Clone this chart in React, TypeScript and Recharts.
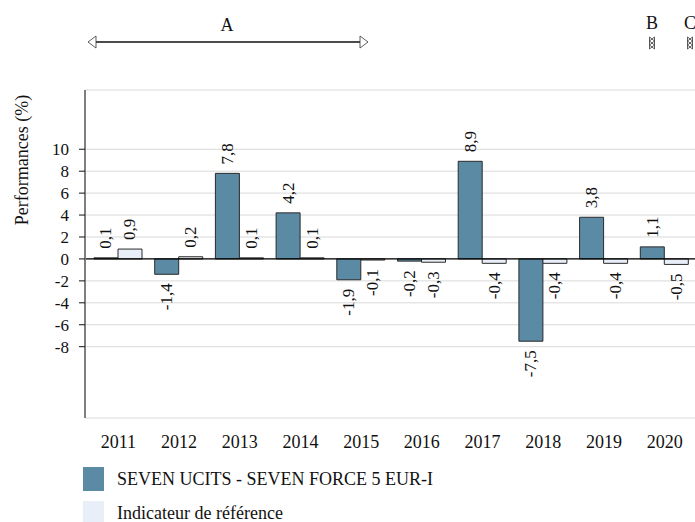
import React from 'react';
import { BarChart, Bar, XAxis, YAxis, CartesianGrid, ReferenceLine, LabelList } from 'recharts';

const years = ['2011', '2012', '2013', '2014', '2015', '2016', '2017', '2018', '2019', '2020'];
const fundValues = [0.1, -1.4, 7.8, 4.2, -1.9, -0.2, 8.9, -7.5, 3.8, 1.1];
const benchValues = [0.9, 0.2, 0.1, 0.1, -0.1, -0.3, -0.4, -0.4, -0.4, -0.5];
const yTicks = [-8, -6, -4, -2, 0, 2, 4, 6, 8, 10];
const seriesNames = ['SEVEN UCITS - SEVEN FORCE 5 EUR-I', 'Indicateur de référence'];
const seriesColors = ['#5b8aa4', '#e9eff8'];

const data = years.map((y, i) => ({ year: y, fund: fundValues[i], bench: benchValues[i] }));

const FONT = '"Liberation Serif", "Times New Roman", serif';

const fmt = (v: number) => v.toFixed(1).replace('.', ',');

const ValueLabel = (props: any) => {
  const { x, y, width, height, value } = props;
  const top = Math.min(y, y + height);
  const bottom = Math.max(y, y + height);
  const cx = x + width / 2;
  const pos = value >= 0;
  const ay = pos ? top - 9 : bottom + 9;
  return (
    <text
      x={cx}
      y={ay}
      transform={`rotate(-90 ${cx} ${ay})`}
      textAnchor={pos ? 'start' : 'end'}
      dominantBaseline="central"
      fontFamily={FONT}
      fontSize={17}
      fill="#111"
    >
      {fmt(value)}
    </text>
  );
};

const Marker = ({ x }: { x: number }) => (
  <g stroke="#333" strokeWidth={0.8} fill="none">
    <path d={`M${x - 2.5},37 L${x + 2.5},41 L${x - 2.5},45 L${x + 2.5},49`} />
    <path d={`M${x + 2.5},37 L${x - 2.5},41 L${x + 2.5},45 L${x - 2.5},49`} />
    <path d={`M${x - 2.5},37 L${x - 2.5},49 M${x + 2.5},37 L${x + 2.5},49`} />
  </g>
);

export default function App() {
  return (
    <div style={{ position: 'absolute', left: 0, top: 0, width: 695, height: 522, background: '#fff', overflow: 'hidden' }}>
      <BarChart
        width={695}
        height={522}
        data={data}
        margin={{ top: 90, right: 0, left: 25, bottom: 74 }}
        barGap={0}
        barSize={24}
      >
        <CartesianGrid vertical={false} stroke="#d9d9d9" />
        <XAxis
          dataKey="year"
          axisLine={false}
          tickLine={false}
          height={30}
          tickMargin={11}
          padding={{ left: 3, right: 0 }}
          tick={{ fontFamily: FONT, fontSize: 18, fill: '#111' }}
          interval={0}
        />
        <YAxis
          width={60}
          domain={[-14.5, 15.4]}
          ticks={yTicks}
          interval={0}
          allowDataOverflow
          axisLine={{ stroke: '#7f7f7f', strokeWidth: 2 }}
          tickLine={{ stroke: '#111' }}
          tickSize={6}
          tickMargin={10}
          tick={{ fontFamily: FONT, fontSize: 17, fill: '#111' }}
          label={{
            value: 'Performances (%)',
            angle: -90,
            position: 'insideLeft',
            offset: 0,
            dx: -3,
            dy: -94,
            style: { fontFamily: FONT, fontSize: 18, fill: '#111', textAnchor: 'middle' },
          }}
        />
        <ReferenceLine y={0} stroke="#000" strokeWidth={1.2} />
        <Bar dataKey="fund" name={seriesNames[0]} fill={seriesColors[0]} stroke="#2a2a2a" strokeWidth={1} isAnimationActive={false}>
          <LabelList dataKey="fund" content={ValueLabel} />
        </Bar>
        <Bar dataKey="bench" name={seriesNames[1]} fill={seriesColors[1]} stroke="#2a2a2a" strokeWidth={1} isAnimationActive={false}>
          <LabelList dataKey="bench" content={ValueLabel} />
        </Bar>
      </BarChart>
      <svg width={695} height={80} style={{ position: 'absolute', left: 0, top: 0 }}>
        <line x1={96} y1={42} x2={360} y2={42} stroke="#111" strokeWidth={1.3} />
        <path d="M88,42 L96,36 L96,48 Z" fill="#fff" stroke="#333" strokeWidth={0.8} />
        <path d="M368,42 L360,36 L360,48 Z" fill="#fff" stroke="#333" strokeWidth={0.8} />
        <text x={227} y={25} textAnchor="middle" dominantBaseline="central" fontFamily={FONT} fontSize={18} fill="#111">A</text>
        <text x={652} y={23} textAnchor="middle" dominantBaseline="central" fontFamily={FONT} fontSize={18} fill="#111">B</text>
        <text x={690} y={23} textAnchor="middle" dominantBaseline="central" fontFamily={FONT} fontSize={18} fill="#111">C</text>
        <Marker x={652} />
        <Marker x={690} />
      </svg>
      {seriesNames.map((name, i) => (
        <div key={name} style={{ position: 'absolute', left: 83, top: 467 + i * 34, height: 24, display: 'flex', alignItems: 'center' }}>
          <div style={{ width: 21, height: 24, background: seriesColors[i] }} />
          <span style={{ marginLeft: 13, fontFamily: FONT, fontSize: 18, lineHeight: '20px', color: '#111', whiteSpace: 'nowrap' }}>{name}</span>
        </div>
      ))}
    </div>
  );
}
